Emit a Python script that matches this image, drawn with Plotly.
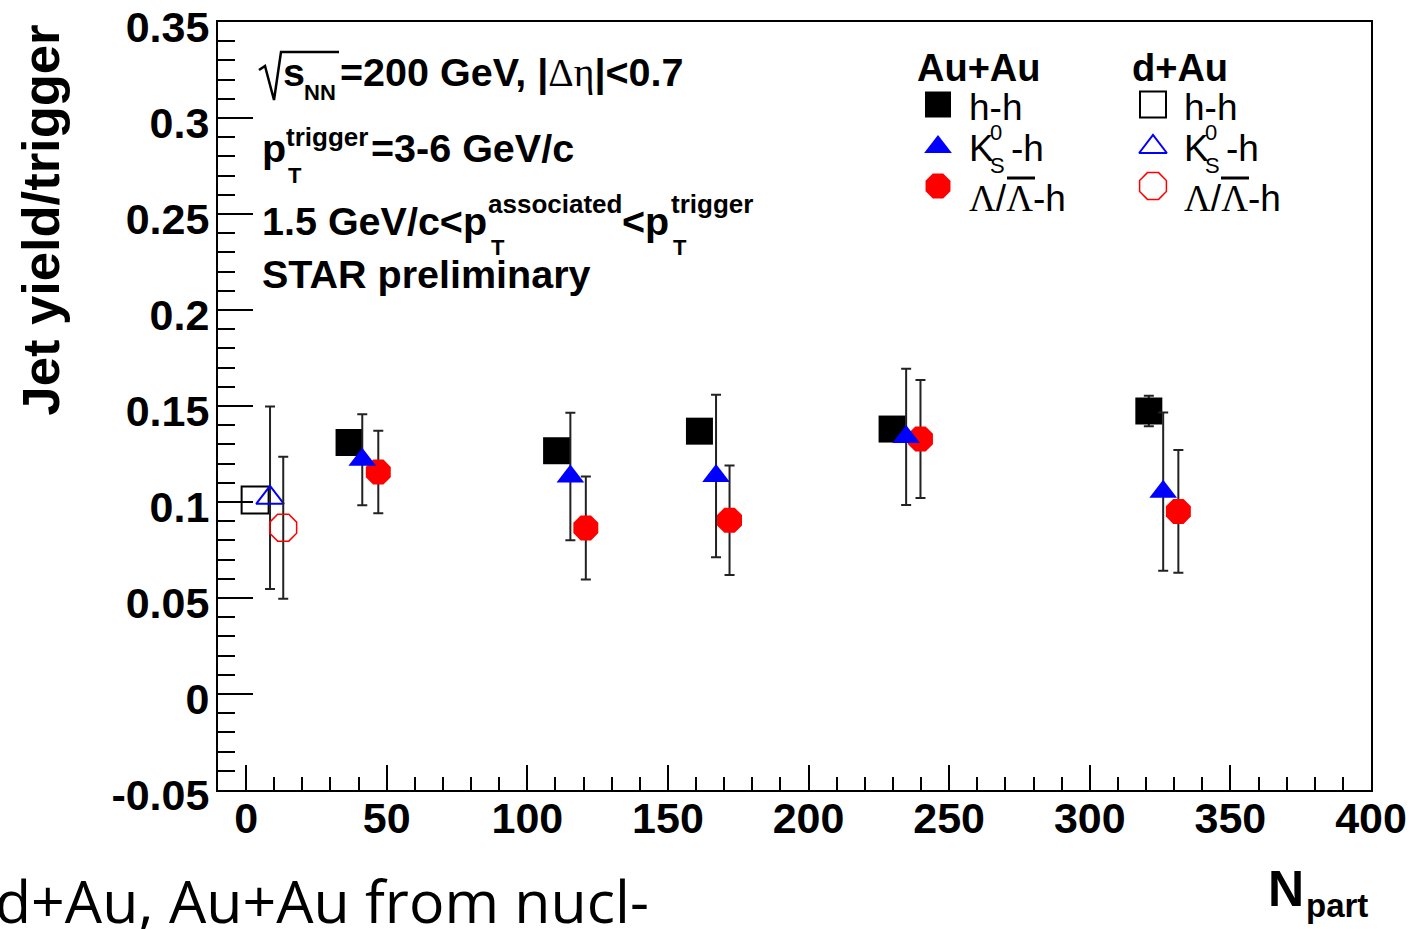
import plotly.graph_objects as go

# ---- data: jet-like yield per trigger vs number of participants ----
# Au+Au, charged-hadron triggers
AUAU_HH_NPART = [36.6, 110.4, 161.2, 229.7, 321.0]
AUAU_HH_YIELD = [0.131, 0.1267, 0.1369, 0.138, 0.1474]
AUAU_HH_ERR = [0.005, 0.005, 0.005, 0.005, 0.008]

# Au+Au, K0s triggers
AUAU_K0_NPART = [41.3, 115.3, 167.1, 234.7, 326.1]
AUAU_K0_YIELD = [0.122, 0.1133, 0.1135, 0.1339, 0.1054]
AUAU_K0_ERR = [0.0237, 0.0332, 0.0423, 0.0355, 0.0412]

# Au+Au, Lambda / anti-Lambda triggers
AUAU_LAM_NPART = [47.0, 120.8, 171.9, 239.8, 331.5]
AUAU_LAM_YIELD = [0.1156, 0.0865, 0.0905, 0.1328, 0.0951]
AUAU_LAM_ERR = [0.0215, 0.0268, 0.0285, 0.0307, 0.032]

# d+Au reference points (h-h error hidden inside its marker)
DAU_HH_NPART = [3.2]
DAU_HH_YIELD = [0.101]
DAU_K0_NPART = [8.5]
DAU_K0_YIELD = [0.1022]
DAU_K0_ERR = [0.0475]
DAU_LAM_NPART = [13.2]
DAU_LAM_YIELD = [0.0866]
DAU_LAM_ERR = [0.037]

X_TICKS = [0, 50, 100, 150, 200, 250, 300, 350, 400]
X_TICK_LABELS = ["0", "50", "100", "150", "200", "250", "300", "350", "400"]
Y_TICKS = [-0.05, 0, 0.05, 0.1, 0.15, 0.2, 0.25, 0.3, 0.35]
Y_TICK_LABELS = ["-0.05", "0", "0.05", "0.1", "0.15", "0.2", "0.25", "0.3", "0.35"]

# ---- page geometry (pixels) ----
FIG_W, FIG_H = 1421, 929
PL, PR, PT, PB = 218, 1371, 22, 790
PW, PH = PR - PL, PB - PT

RED = "#ff0000"
BLUE = "#0000ff"
BLACK = "#000000"
BAR = "#222222"
SANS = "Liberation Sans"
SERIF = "Liberation Serif"


def px(x):
    return (x - PL) / PW


def py(y):
    return (PB - y) / PH


def err(vals):
    return dict(type="data", array=vals, visible=True, color=BAR, thickness=2, width=5)


fig = go.Figure()

# d+Au (open markers)
fig.add_trace(go.Scatter(x=DAU_HH_NPART, y=DAU_HH_YIELD, mode="markers",
                         marker=dict(symbol="square-open", size=27, color=BLACK, line=dict(width=2, color=BLACK))))
fig.add_trace(go.Scatter(x=DAU_K0_NPART, y=DAU_K0_YIELD, mode="markers", error_y=err(DAU_K0_ERR),
                         marker=dict(symbol="triangle-up-open", size=24, color=BLUE, line=dict(width=2, color=BLUE))))
fig.add_trace(go.Scatter(x=DAU_LAM_NPART, y=DAU_LAM_YIELD, mode="markers", error_y=err(DAU_LAM_ERR),
                         marker=dict(symbol="octagon-open", size=29, color=RED, line=dict(width=1.5, color=RED))))

# Au+Au (filled markers)
fig.add_trace(go.Scatter(x=AUAU_HH_NPART, y=AUAU_HH_YIELD, mode="markers", error_y=err(AUAU_HH_ERR),
                         marker=dict(symbol="square", size=27, color=BLACK, line=dict(width=0))))
fig.add_trace(go.Scatter(x=AUAU_LAM_NPART, y=AUAU_LAM_YIELD, mode="markers", error_y=err(AUAU_LAM_ERR),
                         marker=dict(symbol="octagon", size=27, color=RED, line=dict(width=0))))
fig.add_trace(go.Scatter(x=AUAU_K0_NPART, y=AUAU_K0_YIELD, mode="markers", error_y=err(AUAU_K0_ERR),
                         marker=dict(symbol="triangle-up", size=24, color=BLUE, line=dict(width=0))))

# legend keys, drawn on an overlay frame spanning the plot area
LEG_COL_X = [938, 1153]
LEG_ROW_Y = [104.5, 147, 186]
leg_styles = [
    [dict(symbol="square", size=26, color=BLACK, line=dict(width=0)),
     dict(symbol="triangle-up", size=24, color=BLUE, line=dict(width=0)),
     dict(symbol="octagon", size=27, color=RED, line=dict(width=0))],
    [dict(symbol="square-open", size=26, color=BLACK, line=dict(width=2, color=BLACK)),
     dict(symbol="triangle-up-open", size=24, color=BLUE, line=dict(width=2, color=BLUE)),
     dict(symbol="octagon-open", size=29, color=RED, line=dict(width=1.5, color=RED))],
]
for ci, cx in enumerate(LEG_COL_X):
    for ri, ry in enumerate(LEG_ROW_Y):
        fig.add_trace(go.Scatter(x=[px(cx)], y=[py(ry)], mode="markers", marker=leg_styles[ci][ri],
                                 xaxis="x2", yaxis="y2", cliponaxis=False, hoverinfo="skip"))

annotations = []


def label(text, x, baseline, size, weight="bold", family=SANS, xanchor="left", angle=0,
          yanchor="middle", y=None, mid=0.35):
    annotations.append(dict(
        text=text, x=px(x), y=py(y if y is not None else baseline - mid * size),
        xref="paper", yref="paper", xanchor=xanchor, yanchor=yanchor, showarrow=False,
        textangle=angle, borderpad=0,
        font=dict(family=family, size=size, color=BLACK, weight=weight)))


# info block
MAIN = 39.5
greek = "<span style='font-family:%s;font-weight:normal'>Δη</span>" % SERIF
label("s", 282, 86, MAIN)
label("NN", 303, 100, 22)
label("=200 GeV, |" + greek + "|<0.7", 339, 86, MAIN)

label("p", 261, 162, MAIN)
label("trigger", 285, 146.5, 26)
label("T", 287, 183, 22)
label("=3-6 GeV/c", 370, 162, MAIN)

label("1.5 GeV/c<p", 261, 235, MAIN)
label("associated", 487, 213, 26)
label("T", 490, 255, 22)
label("<p", 621, 235, MAIN)
label("trigger", 670, 213, 26)
label("T", 672, 255, 22)

label("STAR preliminary", 261, 288, MAIN)

# legend headers and entries
lam = "<span style='font-family:%s'>Λ</span>" % SERIF
for hdr, tx, mx in (("Au+Au", 916, 968), ("d+Au", 1131, 1183)):
    label(hdr, tx, 81, 38)
    label("h-h", mx, 120, 37, weight="normal")
    label("K", mx, 161, 37, weight="normal")
    label("0", mx + 21, 140, 22, weight="normal")
    label("S", mx + 21, 173, 22, weight="normal")
    label("-h", mx + 42, 161, 37, weight="normal")
    label(lam + "/" + lam + "-h", mx, 211, 37, weight="normal")

# axis titles
label("Jet yield/trigger", 40, 0, 52.5, angle=-90, xanchor="center", yanchor="top", y=24)
label("N", 1267, 906, 50)
label("part", 1305, 917, 33)

# text running below the figure
label("d+Au, Au+Au from nucl-", 650, 923, 59, weight="normal", family="Open Sans",
      xanchor="right", mid=0.388)

shapes = []
# radical sign over s_NN
rad = [(259, 70), (265, 66), (274, 100), (281, 52), (339, 52)]
shapes.append(dict(type="path", xref="paper", yref="paper",
                   path="M " + " L ".join("%.5f,%.5f" % (px(a), py(b)) for a, b in rad),
                   line=dict(color=BLACK, width=2.5)))
# bars over the anti-Lambda in both legend columns
for x0, x1 in ((1007, 1035), (1221, 1249)):
    shapes.append(dict(type="line", xref="paper", yref="paper", x0=px(x0), x1=px(x1), y0=py(178), y1=py(178),
                       line=dict(color=BLACK, width=3)))

tick_font = dict(family=SANS, size=43, color=BLACK, weight="bold")
fig.update_layout(
    width=FIG_W, height=FIG_H,
    margin=dict(l=PL, r=FIG_W - PR, t=PT, b=FIG_H - PB, autoexpand=False),
    paper_bgcolor="white", plot_bgcolor="white",
    showlegend=False,
    annotations=annotations, shapes=shapes,
    xaxis=dict(range=[-10, 400.001], tickmode="array", tickvals=X_TICKS, ticktext=X_TICK_LABELS,
               ticks="inside", ticklen=25, tickwidth=2, tickcolor=BLACK,
               showline=True, linewidth=2, linecolor=BLACK, mirror=True, automargin=False,
               showgrid=False, zeroline=False, tickfont=tick_font, ticklabelstandoff=-11,
               ticklabeloverflow="allow",
               minor=dict(tickmode="linear", tick0=0, dtick=10, ticks="inside", ticklen=13,
                          tickwidth=2, tickcolor=BLACK, showgrid=False)),
    yaxis=dict(range=[-0.05, 0.35001], tickmode="array", tickvals=Y_TICKS, ticktext=Y_TICK_LABELS,
               ticks="inside", ticklen=35, tickwidth=2, tickcolor=BLACK,
               showline=True, linewidth=2, linecolor=BLACK, mirror=True, automargin=False,
               showgrid=False, zeroline=False, tickfont=tick_font, ticklabelstandoff=-2,
               ticklabelshift=5, ticklabeloverflow="allow",
               minor=dict(tickmode="linear", tick0=-0.05, dtick=0.01, ticks="inside", ticklen=17,
                          tickwidth=2, tickcolor=BLACK, showgrid=False)),
    xaxis2=dict(range=[0, 1], overlaying="x", visible=False, anchor="y2"),
    yaxis2=dict(range=[0, 1], overlaying="y", visible=False, anchor="x2"),
)

fig.write_html("out.html")
